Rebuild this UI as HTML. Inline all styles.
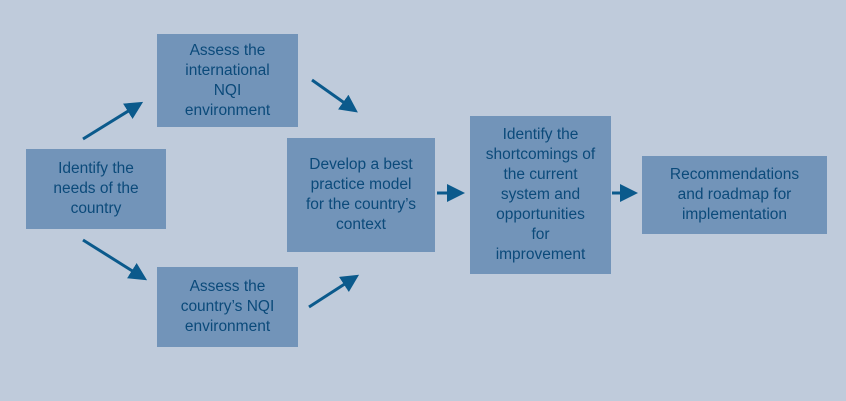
<!DOCTYPE html>
<html><head><style>
body{margin:0;width:846px;height:401px;background:#bfcbdb;position:relative;overflow:hidden;font-family:"Liberation Sans",sans-serif}
.b{position:absolute;background:#7294b9;color:#0b4a7a;font-size:15.5px;line-height:20px;text-align:center;display:flex;align-items:center;justify-content:center;box-sizing:border-box;padding:0 4px}
svg{position:absolute;left:0;top:0}
</style></head><body>
<div class="b" style="left:26px;top:149px;width:140px;height:80px">Identify the<br>needs of the<br>country</div>
<div class="b" style="left:157px;top:34px;width:141px;height:93px">Assess the<br>international<br>NQI<br>environment</div>
<div class="b" style="left:157px;top:267px;width:141px;height:80px">Assess the<br>country’s NQI<br>environment</div>
<div class="b" style="left:287px;top:138px;width:148px;height:114px">Develop a best<br>practice model<br>for the country’s<br>context</div>
<div class="b" style="left:470px;top:116px;width:141px;height:158px">Identify the<br>shortcomings of<br>the current<br>system and<br>opportunities<br>for<br>improvement</div>
<div class="b" style="left:642px;top:156px;width:185px;height:78px">Recommendations<br>and roadmap for<br>implementation</div>
<svg width="846" height="401">
<defs><marker id="a" markerWidth="6" markerHeight="6" refX="4" refY="3" orient="auto" markerUnits="strokeWidth"><path d="M0,0 L6,3 L0,6 z" fill="#0b5a8c"/></marker></defs>
<g stroke="#0b5a8c" stroke-width="3" marker-end="url(#a)">
<line x1="83" y1="139" x2="138" y2="105"/>
<line x1="312" y1="80" x2="353" y2="109"/>
<line x1="83" y1="240" x2="142" y2="277"/>
<line x1="309" y1="307" x2="354" y2="278"/>
<line x1="437" y1="193" x2="459" y2="193"/>
<line x1="612" y1="193" x2="632" y2="193"/>
</g></svg>
</body></html>
